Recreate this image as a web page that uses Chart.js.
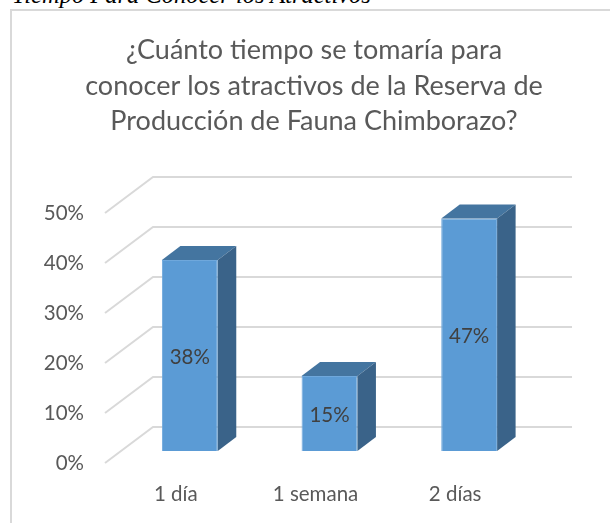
<!DOCTYPE html>
<html>
<head>
<meta charset="utf-8">
<script src="https://cdn.jsdelivr.net/npm/chart.js@4"></script>
<style>
html, body { margin: 0; padding: 0; background: #fff; overflow: hidden; }
#caption { position: absolute; left: 12px; top: -19px; font: italic 24.5px "Liberation Serif"; color: #000; white-space: nowrap; }
#frame { position: absolute; left: 10px; top: 9px; width: 610px; height: 530px; border: 2px solid #d9d9d9; box-sizing: border-box; }
#wrap { position: absolute; left: 0; top: 0; width: 610px; height: 523px; }
</style>
</head>
<body>
<div id="caption">Tiempo Para Conocer los Atractivos</div>
<div id="frame"></div>
<div id="wrap"><canvas id="graph" width="610" height="523"></canvas></div>
<script>
const title_lines = ["¿Cuánto tiempo se tomaría para", "conocer los atractivos de la Reserva de", "Producción de Fauna Chimborazo?"];
const categories = ["1 día", "1 semana", "2 días"];
const values = [0.382, 0.15, 0.465];
const value_labels = ["38%", "15%", "47%"];

// fake 3D: side walls and bar faces are drawn off the real scales
const wall_draw = {
    id: "wall_draw",
    beforeDatasetsDraw(chart) {
        const ctx = chart.ctx;
        const y = chart.scales.y;
        ctx.save();
        ctx.strokeStyle = "#d9d9d9";
        ctx.lineWidth = 2;
        for (const tick of y.ticks) {
            const py = y.getPixelForValue(tick.value);
            ctx.beginPath();
            ctx.moveTo(105, py);
            ctx.lineTo(153, py - 36);
            ctx.lineTo(572, py - 36);
            ctx.stroke();
        }
        ctx.restore();
    }
};

const bar_draw = {
    id: "bar_draw",
    afterDatasetsDraw(chart) {
        const ctx = chart.ctx;
        const dx = 18.5;
        const dy = 14;
        ctx.save();
        chart.getDatasetMeta(0).data.forEach((bar, i) => {
            const left = bar.x - bar.width / 2;
            const right = bar.x + bar.width / 2;
            // top face
            ctx.fillStyle = "#4475a0";
            ctx.beginPath();
            ctx.moveTo(left, bar.y);
            ctx.lineTo(left + dx, bar.y - dy);
            ctx.lineTo(right + dx, bar.y - dy);
            ctx.lineTo(right, bar.y);
            ctx.closePath();
            ctx.fill();
            // side face
            ctx.fillStyle = "#3a6389";
            ctx.beginPath();
            ctx.moveTo(right, bar.y);
            ctx.lineTo(right + dx, bar.y - dy);
            ctx.lineTo(right + dx, bar.base - dy);
            ctx.lineTo(right, bar.base);
            ctx.closePath();
            ctx.fill();
            // value label
            ctx.fillStyle = "#404040";
            ctx.font = "20.5px Lato";
            ctx.textAlign = "center";
            ctx.textBaseline = "middle";
            ctx.fillText(value_labels[i], bar.x, (bar.y + bar.base) / 2 + 2);
        });
        ctx.restore();
    }
};

const ctx = document.getElementById("graph").getContext("2d");
const myChart = new Chart(ctx, {
    type: "bar",
    data: {
        labels: categories,
        datasets: [{
            data: values,
            yAxisID: "y2",
            backgroundColor: "#5b9bd5",
            borderColor: "#6fa8dc",
            borderWidth: 1,
            barPercentage: 0.4,
            categoryPercentage: 1
        }]
    },
    options: {
        responsive: false,
        animation: false,
        layout: { padding: { left: 18, right: 0, top: 0, bottom: 0 } },
        plugins: {
            legend: { display: false },
            tooltip: { enabled: false },
            title: {
                display: true,
                text: title_lines,
                color: "#595959",
                font: { family: "Lato", size: 27, weight: "normal", lineHeight: 1.315 },
                padding: { top: 33, bottom: 73.5 }
            }
        },
        scales: {
            x: {
                grid: { display: false },
                border: { display: false },
                ticks: {
                    color: "#595959",
                    font: { family: "Lato", size: 20.5 },
                    labelOffset: -14,
                    padding: 11,
                    maxRotation: 0
                },
                afterFit(scale) { scale.height = 60; }
            },
            y: {
                min: 0,
                max: 0.5,
                grid: { display: false },
                border: { display: false },
                ticks: {
                    stepSize: 0.1,
                    color: "#595959",
                    font: { family: "Lato", size: 20.5 },
                    padding: 28,
                    callback: v => Math.round(v * 100) + "%"
                },
                afterFit(scale) { scale.width = 102; }
            },
            y2: {
                position: "right",
                min: -0.024,
                max: 0.476,
                grid: { display: false },
                border: { display: false },
                ticks: { display: false },
                afterFit(scale) { scale.width = 71; }
            }
        }
    },
    plugins: [wall_draw, bar_draw]
});
</script>
</body>
</html>
